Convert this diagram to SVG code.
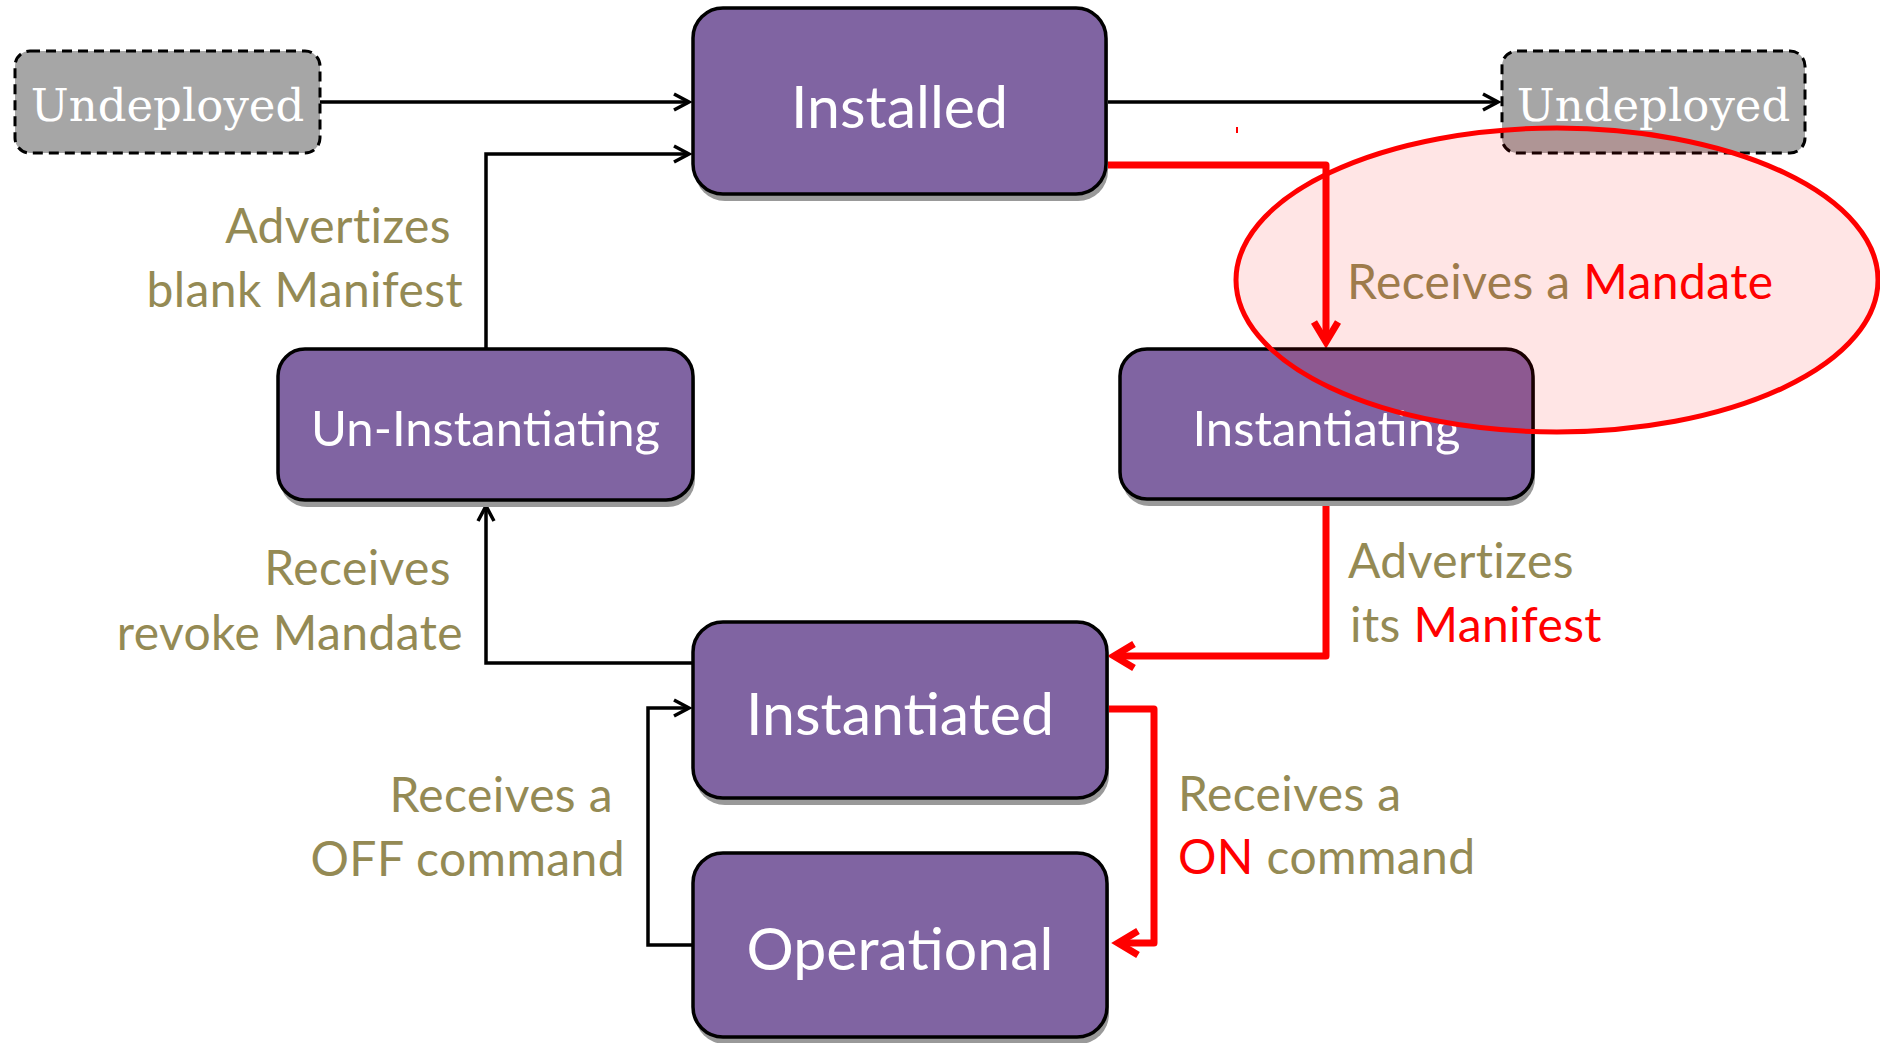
<svg xmlns="http://www.w3.org/2000/svg" width="1880" height="1043" viewBox="0 0 1880 1043">
<style>
.state{fill:#8064A2;stroke:#000;stroke-width:3.5}
.shadow{fill:#999999}
.undep{fill:#A6A6A6;stroke:#000;stroke-width:3;stroke-dasharray:10 6}
.stxt{font-family:Lato,"Open Sans",sans-serif;fill:#FFFFFF;text-anchor:middle}
.big{font-size:59px}
.mid{font-size:49px}
.utxt{font-family:"DejaVu Serif","Liberation Serif",serif;font-size:45px;fill:#FFFFFF;text-anchor:middle}
.lbl{font-family:Lato,"Open Sans",sans-serif;font-size:48px;letter-spacing:0.4px;fill:#948A54}
.red{fill:#FF0000}
.bl{fill:none;stroke:#000;stroke-width:3.5}
.rl{fill:none;stroke:#FF0000;stroke-width:7;stroke-linejoin:round}
</style>
<defs>
<marker id="ab" markerUnits="userSpaceOnUse" markerWidth="40" markerHeight="40" refX="0" refY="0" orient="auto" overflow="visible" viewBox="-20 -20 40 40">
<path d="M-15,-8 L0,0 L-15,8" fill="none" stroke="#000" stroke-width="3.5"/>
</marker>
<marker id="ar" markerUnits="userSpaceOnUse" markerWidth="60" markerHeight="60" refX="0" refY="0" orient="auto" overflow="visible" viewBox="-30 -30 60 60">
<path d="M-20,-12 L0,0 L-20,12" fill="none" stroke="#FF0000" stroke-width="7"/>
</marker>
</defs>
<rect width="1880" height="1043" fill="#FFFFFF"/>

<g id="connectors">
<path class="bl" d="M320,102 H689" marker-end="url(#ab)"/>
<path class="bl" d="M1106,102 H1498" marker-end="url(#ab)"/>
<path class="bl" d="M486,349 V154 H689" marker-end="url(#ab)"/>
<path class="bl" d="M693,663 H486 V506" marker-end="url(#ab)"/>
<path class="bl" d="M693,945 H648 V708 H689" marker-end="url(#ab)"/>
<path class="rl" d="M1106,165 H1326 V342" marker-end="url(#ar)"/>
<path class="rl" d="M1326,499 V656 H1114" marker-end="url(#ar)"/>
<path class="rl" d="M1107,709 H1154 V943 H1118" marker-end="url(#ar)"/>
<line x1="1237" y1="127" x2="1237" y2="133" stroke="#FF0000" stroke-width="2"/>
</g>

<g id="undeployed-left">
<rect class="undep" x="15" y="51" width="305" height="102" rx="15"/>
<text class="utxt" x="167.5" y="121">Undeployed</text>
</g>
<g id="undeployed-right">
<rect class="undep" x="1502" y="51" width="303" height="102" rx="15"/>
<text class="utxt" x="1653.5" y="121">Undeployed</text>
</g>

<g id="installed">
<rect class="shadow" x="695" y="15" width="413" height="186" rx="30"/>
<rect class="state" x="693" y="8" width="413" height="186" rx="30"/>
<text class="stxt big" x="899.5" y="128">Installed</text>
</g>
<g id="un-instantiating">
<rect class="shadow" x="280" y="356" width="415" height="151" rx="27"/>
<rect class="state" x="278" y="349" width="415" height="151" rx="27"/>
<text class="stxt mid" x="485.5" y="446">Un-Instantiating</text>
</g>
<g id="instantiating">
<rect class="shadow" x="1122" y="356" width="413" height="150" rx="27"/>
<rect class="state" x="1120" y="349" width="413" height="150" rx="27"/>
<text class="stxt mid" x="1326.5" y="446">Instantiating</text>
</g>
<g id="instantiated">
<rect class="shadow" x="695" y="629" width="414" height="176" rx="30"/>
<rect class="state" x="693" y="622" width="414" height="176" rx="30"/>
<text class="stxt big" x="900" y="735">Instantiated</text>
</g>
<g id="operational">
<rect class="shadow" x="695" y="860" width="414" height="184" rx="30"/>
<rect class="state" x="693" y="853" width="414" height="184" rx="30"/>
<text class="stxt big" x="900" y="970">Operational</text>
</g>

<g id="labels">
<text class="lbl" x="451" y="243" text-anchor="end">Advertizes</text>
<text class="lbl" x="463" y="307" text-anchor="end">blank Manifest</text>
<text class="lbl" x="451" y="585" text-anchor="end">Receives</text>
<text class="lbl" x="463" y="650" text-anchor="end">revoke Mandate</text>
<text class="lbl" x="613" y="812" text-anchor="end">Receives a</text>
<text class="lbl" x="625" y="876" text-anchor="end">OFF command</text>
<text class="lbl" x="1347" y="299">Receives a <tspan class="red">Mandate</tspan></text>
<text class="lbl" x="1348" y="578">Advertizes</text>
<text class="lbl" x="1350" y="642">its <tspan class="red">Manifest</tspan></text>
<text class="lbl" x="1178" y="811">Receives a</text>
<text class="lbl" x="1178" y="874"><tspan class="red">ON</tspan> command</text>
</g>

<g id="highlight">
<ellipse cx="1557" cy="280" rx="321" ry="152" fill="#FF0000" fill-opacity="0.1" stroke="#FF0000" stroke-width="5"/>
</g>
</svg>
